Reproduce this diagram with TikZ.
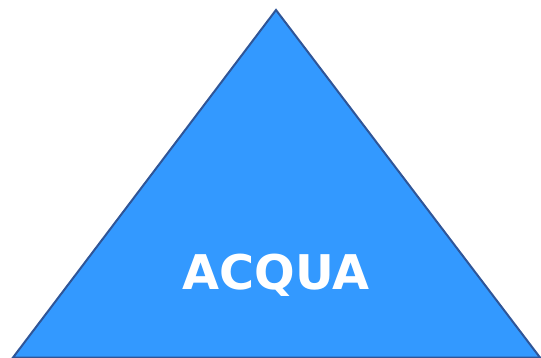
\documentclass[tikz,border=0pt]{standalone}
\usepackage{fontspec}
\newfontfamily\dejavu{DejaVu Sans}
\definecolor{fillblue}{HTML}{3399FF}
\definecolor{edgeblue}{HTML}{2F5597}
\tikzset{tri/.style={fill=fillblue,draw=edgeblue,line width=2pt,line join=miter},
lbl/.style={text=white,font=\dejavu\bfseries\fontsize{47.8}{52}\selectfont,inner sep=0pt}}
\begin{document}
\begin{tikzpicture}[x=1pt,y=-1pt]
\useasboundingbox (0,0) rectangle (541,358);
\coordinate (apex) at (276,10);
\coordinate (bl) at (13,357.5);
\coordinate (br) at (540,357.5);
\draw[tri] (apex) -- (br) -- (bl) -- cycle;
\node[lbl] (t) at (276,275.5) {ACQUA};
\end{tikzpicture}
\end{document}
